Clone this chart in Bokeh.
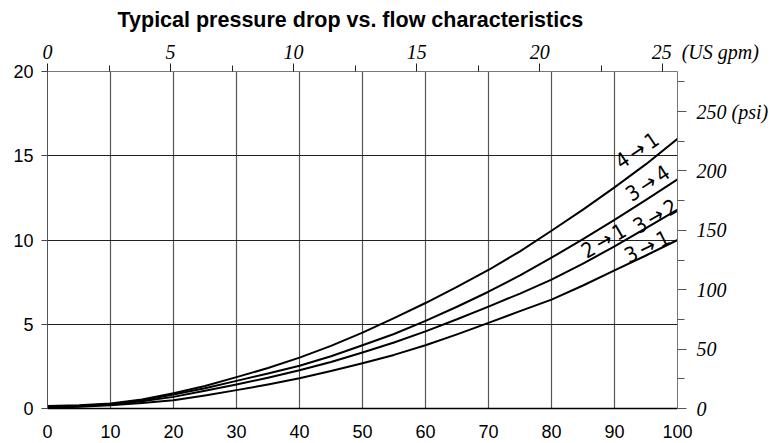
from bokeh.plotting import figure
from bokeh.models import Range1d, LinearAxis, FixedTicker, ColumnDataSource
from bokeh.core.properties import value
from bokeh.embed import file_html
from bokeh.resources import INLINE

# ---- data ----
flow_lpm = [0, 5, 10, 15, 20, 25, 30, 35, 40, 45, 50, 55, 60, 65, 70, 75, 80, 85, 90, 95, 100]
dp_4_1 = [0.15, 0.20, 0.30, 0.53, 0.90, 1.34, 1.86, 2.40, 3.02, 3.72, 4.50, 5.36, 6.26, 7.22, 8.22,
          9.33, 10.55, 11.80, 13.12, 14.50, 16.0]
dp_3_4 = [0.10, 0.15, 0.26, 0.49, 0.83, 1.20, 1.64, 2.08, 2.54, 3.10, 3.75, 4.42, 5.20, 6.04, 6.93,
          7.90, 8.95, 10.05, 11.20, 12.38, 13.60]
dp_3_2 = [0.08, 0.13, 0.24, 0.43, 0.69, 1.05, 1.42, 1.83, 2.27, 2.76, 3.32, 3.92, 4.58, 5.30, 6.05,
          6.82, 7.65, 8.60, 9.62, 10.70, 11.80]
dp_3_1 = [0.05, 0.10, 0.20, 0.33, 0.49, 0.77, 1.09, 1.42, 1.79, 2.22, 2.68, 3.18, 3.75, 4.40, 5.08,
          5.78, 6.46, 7.30, 8.20, 9.08, 10.0]

x_ticks = [0, 10, 20, 30, 40, 50, 60, 70, 80, 90, 100]
y_ticks = [0, 5, 10, 15, 20]
gpm_ticks = [0, 5, 10, 15, 20, 25]
gpm_minor = [2.5, 7.5, 12.5, 17.5, 22.5]
psi_ticks = [0, 50, 100, 150, 200, 250]
psi_minor = [25, 75, 125, 175, 225, 275]
gpm_unit = "(US gpm)"
psi_unit = "(psi)"

TS = "\u2009"
curve_names = ["4" + TS + "\u2192" + TS + "1", "3" + TS + "\u2192" + TS + "4", "3" + TS + "\u2192" + TS + "2",
               "2" + TS + "\u2192" + TS + "1", "3" + TS + "\u2192" + TS + "1"]
name_x = [93.6, 95.3, 96.5, 88.3, 95.2]
name_y = [15.3, 13.35, 11.4, 9.94, 9.59]
name_angle = [34, 33, 30, 30, 26]

title = "Typical pressure drop vs. flow characteristics"

NB = "\u00a0"

p = figure(width=779, height=443, x_range=Range1d(0, 100), y_range=Range1d(0, 20),
           output_backend="svg", toolbar_location=None,
           min_border_left=47, min_border_right=102, min_border_top=71, min_border_bottom=35,
           background_fill_color="white", border_fill_color="white")
p.outline_line_color = None

p.extra_x_ranges = {"gpm": Range1d(0, 25.6)}
p.extra_y_ranges = {"psi": Range1d(0, 283.7)}

# title
p.title.text = title
p.title.text_font = "Liberation Sans"
p.title.text_font_size = "21.5px"
p.title.text_font_style = "bold"
p.title.align = "left"
p.title.offset = 70
p.title.standoff = 11
p.title.text_color = "black"

# bottom axis
xa = p.xaxis[0]
xa.ticker = FixedTicker(ticks=x_ticks)
xa.major_tick_out = 0
xa.major_tick_in = 0
xa.minor_tick_line_color = None
xa.axis_line_color = "black"
xa.axis_line_width = 1.3
xa.major_label_text_font = "Liberation Sans"
xa.major_label_text_font_size = "18px"
xa.major_label_text_color = "black"
xa.major_label_standoff = 16

# left axis
ya = p.yaxis[0]
ya.ticker = FixedTicker(ticks=y_ticks)
ya.major_tick_out = 6
ya.major_tick_in = 0
ya.major_tick_line_color = "#444444"
ya.minor_tick_line_color = None
ya.axis_line_color = "#555555"
ya.major_label_text_font = "Liberation Sans"
ya.major_label_text_font_size = "18px"
ya.major_label_text_color = "black"
ya.major_label_standoff = 8

# grids
p.xgrid.ticker = FixedTicker(ticks=x_ticks[1:-1])
p.xgrid.grid_line_color = "#555555"
p.xgrid.grid_line_width = 1.2
p.ygrid.ticker = FixedTicker(ticks=y_ticks[1:-1])
p.ygrid.grid_line_color = "#222222"
p.ygrid.grid_line_width = 1.2

# top axis (US gpm); unit text appended to the last tick label, left-padded so the number stays centred
ta = LinearAxis(x_range_name="gpm", ticker=FixedTicker(ticks=gpm_ticks, minor_ticks=gpm_minor))
ta.major_tick_out = 8
ta.major_tick_in = 0
ta.minor_tick_out = 6
ta.minor_tick_in = 0
ta.major_tick_line_color = "#222222"
ta.minor_tick_line_color = "#222222"
ta.axis_line_color = "#777777"
ta.major_label_text_font = "Liberation Serif"
ta.major_label_text_font_style = "italic"
ta.major_label_text_font_size = "20px"
ta.major_label_text_color = "black"
ta.major_label_standoff = 1
ta.major_label_overrides = {gpm_ticks[-1]: NB * 17 + str(gpm_ticks[-1]) + NB * 2 + gpm_unit}
p.add_layout(ta, "above")

# right axis (psi)
ra = LinearAxis(y_range_name="psi", ticker=FixedTicker(ticks=psi_ticks, minor_ticks=psi_minor))
ra.major_tick_out = 9
ra.major_tick_in = 0
ra.minor_tick_out = 7
ra.minor_tick_in = 0
ra.major_tick_line_color = "#555555"
ra.minor_tick_line_color = "#555555"
ra.axis_line_color = "#777777"
ra.major_label_text_font = "Liberation Serif"
ra.major_label_text_font_style = "italic"
ra.major_label_text_font_size = "20px"
ra.major_label_text_color = "black"
ra.major_label_standoff = 10
ra.major_label_overrides = {psi_ticks[-1]: str(psi_ticks[-1]) + NB + psi_unit}
p.add_layout(ra, "right")

# curves
for series in (dp_4_1, dp_3_4, dp_3_2, dp_3_1):
    p.line(flow_lpm, series, line_color="black", line_width=2, line_join="round")

src = ColumnDataSource(dict(x=name_x, y=name_y, t=curve_names, a=name_angle))
p.text(x="x", y="y", text="t", angle="a", angle_units="deg", source=src,
       text_font=value("Liberation Sans Narrow, DejaVu Sans Condensed, sans-serif"),
       text_font_size="21px", text_align="center", text_baseline="middle", text_color="black")

open("out.html", "w").write(file_html(p, INLINE))
